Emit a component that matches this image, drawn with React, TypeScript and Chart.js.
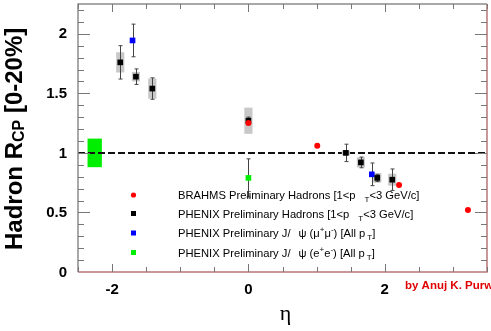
import React, { useEffect, useRef } from "react";
import { Chart, registerables } from "chart.js";
Chart.register(...registerables);

// ---- data ----
const brahmsEta = [0, 1.01, 2.21, 3.22];
const brahmsRcp = [1.25, 1.06, 0.73, 0.52];

const phenixEta = [-1.88, -1.65, -1.41, 0, 1.43, 1.65, 1.89, 2.11];
const phenixRcp = [1.76, 1.64, 1.54, 1.27, 1.0, 0.92, 0.79, 0.775];
const phenixStat = [0.14, 0.065, 0.09, 0.03, 0.073, 0.045, 0.03, 0.09];
const phenixSys = [0.085, 0.04, 0.085, 0.11, 0.02, 0.042, 0.04, 0.05];

const jpsiMuEta = [-1.7, 1.81];
const jpsiMuRcp = [1.944, 0.82];
const jpsiMuErr = [0.137, 0.095];

const jpsiEeEta = [0];
const jpsiEeRcp = [0.79];
const jpsiEeErr = [0.16];

const normEta = [-2.255];
const normValue = [1.0];
const normErr = [0.12];
const normHalfWidth = 0.105;
const sysHalfWidth = 0.06;

const xTickLabels = [-2, 0, 2];
const yTickLabels = [0, 0.5, 1, 1.5, 2];

const seriesColors = ["#ff0000", "#000000", "#0000ff", "#00ee00"];

type Seg = { t?: string; s?: number; dy?: number; gap?: number };
const legendLabels: Seg[][] = [
  [{ t: "BRAHMS Preliminary Hadrons [1<p" }, { gap: 9 }, { t: "T", s: 8, dy: 3 }, { t: "<3 GeV/c]" }],
  [{ t: "PHENIX Preliminary Hadrons [1<p" }, { gap: 9 }, { t: "T", s: 8, dy: 3 }, { t: "<3 GeV/c]" }],
  [{ t: "PHENIX Preliminary J/" }, { gap: 8 }, { t: "\u03C8 (\u03BC" }, { t: "+", s: 8, dy: -5 }, { t: "\u03BC" }, { t: "-", s: 8, dy: -5 }, { t: ") [All p" }, { gap: 2 }, { t: "T", s: 8, dy: 3 }, { t: "]" }],
  [{ t: "PHENIX Preliminary J/" }, { gap: 8 }, { t: "\u03C8 (e" }, { t: "+", s: 8, dy: -5 }, { t: "e" }, { t: "-", s: 8, dy: -5 }, { t: ") [All p" }, { gap: 2 }, { t: "T", s: 8, dy: 3 }, { t: "]" }],
];

const SANS = '"Liberation Sans", Arial, sans-serif';

function drawRich(ctx: CanvasRenderingContext2D, x: number, y: number, segs: Seg[], base: number, weight = "") {
  let cx = x;
  for (const g of segs) {
    if (g.gap) {
      cx += g.gap;
      continue;
    }
    const size = g.s ?? base;
    ctx.font = `${weight} ${size}px ${SANS}`;
    ctx.fillText(g.t || "", cx, y + (g.dy ?? 0));
    cx += ctx.measureText(g.t || "").width;
  }
}

const overlay = {
  id: "overlay",
  beforeDatasetsDraw(chart: any) {
    const { ctx, chartArea: a, scales } = chart;
    const x = scales.x;
    const y = scales.y;
    ctx.save();
    // normalization box
    ctx.fillStyle = "#00ee00";
    normEta.forEach((e, i) => {
      const x0 = x.getPixelForValue(e - normHalfWidth);
      const x1 = x.getPixelForValue(e + normHalfWidth);
      const y0 = y.getPixelForValue(normValue[i] + normErr[i]);
      const y1 = y.getPixelForValue(normValue[i] - normErr[i]);
      ctx.fillRect(x0, y0, x1 - x0, y1 - y0);
    });
    // dashed line at 1
    ctx.strokeStyle = "#111";
    ctx.lineWidth = 2;
    ctx.setLineDash([7, 3]);
    ctx.beginPath();
    const y1p = y.getPixelForValue(1);
    ctx.moveTo(a.left, y1p);
    ctx.lineTo(a.right, y1p);
    ctx.stroke();
    ctx.setLineDash([]);
    // systematic boxes
    ctx.fillStyle = "#c8c8c8";
    phenixEta.forEach((e, i) => {
      const x0 = x.getPixelForValue(e - sysHalfWidth);
      const x1 = x.getPixelForValue(e + sysHalfWidth);
      const y0 = y.getPixelForValue(phenixRcp[i] + phenixSys[i]);
      const y1 = y.getPixelForValue(phenixRcp[i] - phenixSys[i]);
      ctx.fillRect(x0, y0, x1 - x0, y1 - y0);
    });
    // error bars
    ctx.strokeStyle = "#444";
    ctx.lineWidth = 1;
    const bar = (e: number, v: number, err: number) => {
      const px = Math.round(x.getPixelForValue(e)) + 0.5;
      const yt = y.getPixelForValue(v + err);
      const yb = y.getPixelForValue(v - err);
      ctx.beginPath();
      ctx.moveTo(px, yt);
      ctx.lineTo(px, yb);
      ctx.moveTo(px - 2, yt);
      ctx.lineTo(px + 2, yt);
      ctx.moveTo(px - 2, yb);
      ctx.lineTo(px + 2, yb);
      ctx.stroke();
    };
    phenixEta.forEach((e, i) => bar(e, phenixRcp[i], phenixStat[i]));
    jpsiMuEta.forEach((e, i) => bar(e, jpsiMuRcp[i], jpsiMuErr[i]));
    jpsiEeEta.forEach((e, i) => bar(e, jpsiEeRcp[i], jpsiEeErr[i]));
    ctx.restore();
  },
  afterDraw(chart: any) {
    const { ctx, chartArea: a, scales } = chart;
    const x = scales.x;
    const y = scales.y;
    ctx.save();
    // frame
    ctx.lineWidth = 1.5;
    ctx.strokeStyle = "#8c8c8c";
    ctx.beginPath();
    ctx.moveTo(a.left, a.bottom);
    ctx.lineTo(a.left, a.top);
    ctx.lineTo(a.right, a.top);
    ctx.stroke();
    ctx.strokeStyle = "#b87878";
    ctx.beginPath();
    ctx.moveTo(a.left, a.bottom);
    ctx.lineTo(a.right, a.bottom);
    ctx.lineTo(a.right, a.top);
    ctx.stroke();
    // y ticks
    ctx.lineWidth = 1;
    ctx.strokeStyle = "#777";
    for (let k = 1; k <= 22; k++) {
      const v = k / 10;
      const py = Math.round(y.getPixelForValue(v)) + 0.5;
      const len = k % 5 === 0 ? 12 : 6;
      ctx.beginPath();
      ctx.moveTo(a.left, py);
      ctx.lineTo(a.left + len, py);
      ctx.moveTo(a.right, py);
      ctx.lineTo(a.right - len, py);
      ctx.stroke();
    }
    // x ticks
    for (let k = -5; k <= 7; k++) {
      const v = k / 2;
      const px = Math.round(x.getPixelForValue(v)) + 0.5;
      const len = k % 4 === 0 ? 8 : 5;
      ctx.beginPath();
      ctx.moveTo(px, a.top);
      ctx.lineTo(px, a.top + len);
      ctx.moveTo(px, a.bottom);
      ctx.lineTo(px, a.bottom - len);
      ctx.stroke();
    }
    // tick labels
    ctx.fillStyle = "#000";
    ctx.font = `bold 15px ${SANS}`;
    ctx.textAlign = "right";
    ctx.textBaseline = "middle";
    yTickLabels.forEach((v) => ctx.fillText(String(v), a.left - 11, y.getPixelForValue(v) + 0.5));
    ctx.textAlign = "center";
    xTickLabels.forEach((v) => ctx.fillText(String(v), x.getPixelForValue(v), a.bottom + 17.5));
    // legend
    const rows = [195, 213.5, 233, 252.5];
    const mx = 133.5;
    ctx.textBaseline = "alphabetic";
    rows.forEach((ry, i) => {
      ctx.fillStyle = seriesColors[i];
      if (i === 0) {
        ctx.beginPath();
        ctx.arc(mx, ry, 2.6, 0, Math.PI * 2);
        ctx.fill();
      } else {
        ctx.fillRect(mx - 2.5, ry - 2.5, 5, 5);
      }
      ctx.fillStyle = "#000";
      ctx.textAlign = "left";
      drawRich(ctx, 178, ry + 4, legendLabels[i], 11.2);
    });
    // y title
    ctx.save();
    ctx.translate(21.5, 250);
    ctx.rotate(-Math.PI / 2);
    ctx.fillStyle = "#000";
    drawRich(ctx, 0, 0, [{ t: "Hadron R" }, { t: "CP", s: 16, dy: 2 }, { t: " [0-20%]" }], 24, "bold");
    ctx.restore();
    // x title
    ctx.fillStyle = "#000";
    ctx.font = '22px "Liberation Serif", "Times New Roman", serif';
    ctx.textAlign = "center";
    ctx.fillText("\u03B7", 285.5, 320);
    // credit
    ctx.fillStyle = "#e00000";
    ctx.textAlign = "left";
    ctx.font = `bold 11.5px ${SANS}`;
    ctx.fillText("by Anuj K. Purwar", 405, 289);
    ctx.restore();
  },
};

export default function App() {
  const ref = useRef<HTMLCanvasElement>(null);
  useEffect(() => {
    if (!ref.current) return;
    const mk = (ex: number[], vy: number[]) => ex.map((e, i) => ({ x: e, y: vy[i] }));
    const chart = new Chart(ref.current, {
      type: "scatter",
      data: {
        datasets: [
          { label: "BRAHMS", data: mk(brahmsEta, brahmsRcp), pointStyle: "circle", pointRadius: 3, backgroundColor: seriesColors[0], borderWidth: 0 },
          { label: "PHENIX Hadrons", data: mk(phenixEta, phenixRcp), pointStyle: "rect", pointRadius: 4, backgroundColor: seriesColors[1], borderWidth: 0 },
          { label: "J/psi mumu", data: mk(jpsiMuEta, jpsiMuRcp), pointStyle: "rect", pointRadius: 4, backgroundColor: seriesColors[2], borderWidth: 0 },
          { label: "J/psi ee", data: mk(jpsiEeEta, jpsiEeRcp), pointStyle: "rect", pointRadius: 4, backgroundColor: seriesColors[3], borderWidth: 0 },
        ],
      },
      options: {
        animation: false,
        responsive: true,
        maintainAspectRatio: false,
        layout: { padding: { top: 4, right: 1, left: 0, bottom: 0 } },
        plugins: { legend: { display: false }, tooltip: { enabled: false } },
        scales: {
          x: {
            type: "linear",
            min: -2.5,
            max: 3.5,
            grid: { display: false, drawTicks: false },
            border: { display: false },
            ticks: { display: false },
            afterFit: (s: any) => {
              s.height = 59;
            },
          },
          y: {
            type: "linear",
            min: 0,
            max: 2.25,
            grid: { display: false, drawTicks: false },
            border: { display: false },
            ticks: { display: false },
            afterFit: (s: any) => {
              s.width = 78;
            },
          },
        },
      },
      plugins: [overlay],
    });
    return () => chart.destroy();
  }, []);
  return (
    <div style={{ position: "absolute", left: 0, top: 0, width: 491, height: 331, background: "#fff" }}>
      <canvas ref={ref} />
    </div>
  );
}
